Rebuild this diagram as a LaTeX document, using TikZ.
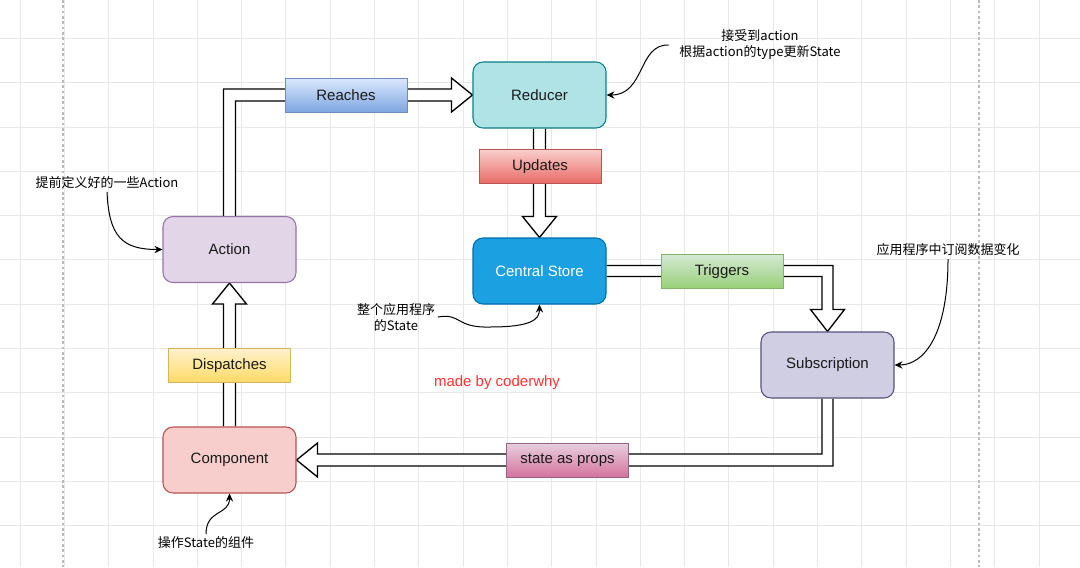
\documentclass[tikz,border=0pt]{standalone}
\usepackage{fontspec}
\setmainfont{Liberation Sans}
\newfontfamily\cjkfont{Noto Sans CJK SC}
\usetikzlibrary{calc,arrows.meta}
\definecolor{gridc}{HTML}{E8E8E8}
\definecolor{pagec}{HTML}{BBBBBB}
\definecolor{txt}{HTML}{1A1A1A}
\definecolor{redfill}{HTML}{B0E3E6}\definecolor{redline}{HTML}{0E8088}
\definecolor{storefill}{HTML}{1BA1E2}\definecolor{storeline}{HTML}{006EAF}
\definecolor{actfill}{HTML}{E1D5E7}\definecolor{actline}{HTML}{9673A6}
\definecolor{subfill}{HTML}{D0CEE2}\definecolor{subline}{HTML}{56517E}
\definecolor{compfill}{HTML}{F8CECC}\definecolor{compline}{HTML}{B85450}
\definecolor{blueA}{HTML}{DAE8FC}\definecolor{blueB}{HTML}{7EA6E0}\definecolor{blueL}{HTML}{6C8EBF}
\definecolor{redA}{HTML}{F8CECC}\definecolor{redB}{HTML}{EA6B66}\definecolor{redL}{HTML}{B85450}
\definecolor{greenA}{HTML}{D5E8D4}\definecolor{greenB}{HTML}{97D077}\definecolor{greenL}{HTML}{82B366}
\definecolor{yelA}{HTML}{FFF2CC}\definecolor{yelB}{HTML}{FFD966}\definecolor{yelL}{HTML}{D6B656}
\definecolor{pinkA}{HTML}{E6D0DE}\definecolor{pinkB}{HTML}{D5739D}\definecolor{pinkL}{HTML}{996185}
\definecolor{madeby}{HTML}{FF3333}
\pgfdeclarelayer{bg}
\pgfdeclarelayer{arrowlayer}
\pgfsetlayers{bg,arrowlayer,main}
\begin{document}
\begin{tikzpicture}[x=0.75pt,y=-0.75pt,
  gridline/.style={draw=gridc,line width=0.6pt},
  pageline/.style={draw=pagec,line width=0.8pt,dash pattern=on 2pt off 2pt},
  boxnode/.style={draw,rounded corners=7.5pt,line width=0.8pt,minimum width=99.75pt,minimum height=49.5pt,inner sep=0pt,font=\fontsize{11.25}{13}\selectfont,text=txt},
  lbl/.style={draw,line width=0.7pt,minimum width=91.5pt,minimum height=25.5pt,inner sep=0pt,font=\fontsize{11.25}{13}\selectfont,text=txt},
  flex/.style={draw=black,fill=white,line width=1pt,line join=miter},
  annot/.style={font=\cjkfont\fontsize{9.75}{12}\selectfont,align=center,inner sep=2pt,text=black},
  annarrow/.style={draw=black,line width=0.75pt,-{Stealth[length=6pt,width=5.5pt,inset=2pt]}}
]
\useasboundingbox (0,0) rectangle (1080,567);
\begin{pgfonlayer}{bg}
\fill[white] (0,0) rectangle (1080,567);
\foreach \i in {0,...,24} \draw[gridline] ({20+44.3*\i},0) -- ({20+44.3*\i},567);
\foreach \j in {0,...,11} \draw[gridline] (0,{38.3+44.3*\j}) -- (1080,{38.3+44.3*\j});
\draw[pageline] (63,0) -- (63,567);
\draw[pageline] (979,0) -- (979,567);
\end{pgfonlayer}

% main boxes
\node[boxnode,fill=redfill,draw=redline] (reducer) at (539.5,95) {Reducer};
\node[boxnode,fill=storefill,draw=storeline,text=white] (store) at (539.5,271) {Central Store};
\node[boxnode,fill=actfill,draw=actline] (action) at (229.5,249.5) {Action};
\node[boxnode,fill=subfill,draw=subline] (sub) at (827.5,365) {Subscription};
\node[boxnode,fill=compfill,draw=compline] (comp) at (229.5,460) {Component};

% flex arrows
\begin{pgfonlayer}{arrowlayer}
\path[flex] ($(action.north)+(-6,0)$) |- ($(reducer.west)+(-21,-6)$) -- ($(reducer.west)+(-21,-17)$) -- (reducer.west) -- ($(reducer.west)+(-21,17)$) -- ($(reducer.west)+(-21,6)$) -| ($(action.north)+(6,0)$);
\path[flex] ($(reducer.south)+(-6,0)$) -- ($(store.north)+(-6,-21)$) -- ($(store.north)+(-17,-21)$) -- (store.north) -- ($(store.north)+(17,-21)$) -- ($(store.north)+(6,-21)$) -- ($(reducer.south)+(6,0)$);
\path[flex] ($(store.east)+(0,-5.5)$) -| ($(sub.north)+(5.5,-22)$) -- ($(sub.north)+(17,-22)$) -- (sub.north) -- ($(sub.north)+(-17,-22)$) -- ($(sub.north)+(-5.5,-22)$) |- ($(store.east)+(0,5.5)$);
\path[flex] ($(sub.south)+(5.5,0)$) |- ($(comp.east)+(21,6)$) -- ($(comp.east)+(21,17)$) -- (comp.east) -- ($(comp.east)+(21,-17)$) -- ($(comp.east)+(21,-6)$) -| ($(sub.south)+(-5.5,0)$);
\path[flex] ($(comp.north)+(-6,0)$) -- ($(action.south)+(-6,21)$) -- ($(action.south)+(-17,21)$) -- (action.south) -- ($(action.south)+(17,21)$) -- ($(action.south)+(6,21)$) -- ($(comp.north)+(6,0)$);
\end{pgfonlayer}

% edge labels
\node[lbl,top color=blueA,bottom color=blueB,draw=blueL] (lreach) at (346,95) {Reaches};
\node[lbl,top color=redA,bottom color=redB,draw=redL] (lupd) at (540,166.5) {Updates};
\node[lbl,top color=greenA,bottom color=greenB,draw=greenL] (ltrig) at (722,271.5) {Triggers};
\node[lbl,top color=pinkA,bottom color=pinkB,draw=pinkL] (lprops) at (567.5,460) {state as props};
\node[lbl,top color=yelA,bottom color=yelB,draw=yelL] (ldisp) at (229.5,365.5) {Dispatches};

% annotations
\node[annot] (ann1) at (760,45) {接受到action\\根据action的type更新State};
\node[annot] (ann2) at (107,183) {提前定义好的一些Action};
\node[annot] (ann3) at (396,317) {整个应用程序\\的State};
\node[annot] (ann4) at (948,250) {应用程序中订阅数据变化};
\node[annot] (ann5) at (206,543) {操作State的组件};
\node[font=\fontsize{11.25}{13}\selectfont,text=madeby] (made) at (497,383) {made by coderwhy};

\draw[annarrow] ($(ann1.west)+(-8,0)$) .. controls (638,44) and (645,95) .. (reducer.east);
\draw[annarrow] (ann2.south) .. controls ($(ann2.south)+(2,45)$) and ($(action.west)+(-40,0)$) .. (action.west);
\draw[annarrow] (ann3.east) .. controls (462,313) and (455,328) .. (490,327) .. controls (530,327) and (539.5,320) .. (store.south);
\draw[annarrow] (ann4.south) .. controls ($(ann4.south)+(0,75)$) and ($(sub.east)+(30,0)$) .. (sub.east);
\draw[annarrow] (ann5.north) .. controls ($(ann5.north)+(0,-25)$) and ($(comp.south)+(0,22)$) .. (comp.south);
\end{tikzpicture}
\end{document}
